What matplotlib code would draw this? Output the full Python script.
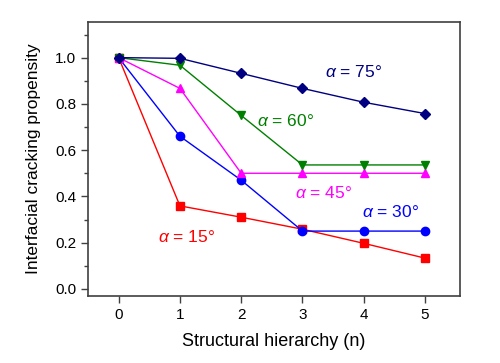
import matplotlib
matplotlib.use('Agg')
import matplotlib.pyplot as plt
from matplotlib.ticker import MultipleLocator

plt.rcParams['font.family'] = 'Liberation Sans'
plt.rcParams['mathtext.fontset'] = 'custom'
plt.rcParams['mathtext.rm'] = 'Liberation Sans'
plt.rcParams['mathtext.it'] = 'Liberation Sans:italic'

# data
n = [0, 1, 2, 3, 4, 5]
a75 = [1.0, 0.997, 0.932, 0.867, 0.807, 0.758]
a60 = [1.0, 0.967, 0.75, 0.536, 0.536, 0.536]
a45 = [1.0, 0.867, 0.5, 0.5, 0.5, 0.5]
a30 = [1.0, 0.66, 0.47, 0.25, 0.25, 0.25]
a15 = [1.0, 0.359, 0.31, 0.258, 0.197, 0.133]

series = [
    (a15, 'red', 's', r'$\mathit{\alpha}$ = 15°', 1.1, 0.225),
    (a30, 'blue', 'o', r'$\mathit{\alpha}$ = 30°', 4.43, 0.333),
    (a45, 'magenta', '^', r'$\mathit{\alpha}$ = 45°', 3.34, 0.415),
    (a60, 'green', 'v', r'$\mathit{\alpha}$ = 60°', 2.72, 0.727),
    (a75, 'navy', 'D', r'$\mathit{\alpha}$ = 75°', 3.83, 0.94),
]

fig = plt.figure(figsize=(5, 3.63), dpi=100)
ax = fig.add_axes([0.176, 0.185, 0.744, 0.755])

for ys, col, mk, lab, tx, ty in series:
    ms = 5 if mk == 'D' else 6
    ax.plot(n, ys, '-', color=col, marker=mk, markersize=ms, linewidth=1.0)
    ax.text(tx, ty, lab, color=col, fontsize=12.5, ha='center', va='center')

ax.set_xlim(-0.5, 5.57)
ax.set_ylim(-0.03, 1.155)
ax.set_xticks(n)
ax.yaxis.set_major_locator(MultipleLocator(0.2))
ax.yaxis.set_minor_locator(MultipleLocator(0.1))
ax.tick_params(axis='both', direction='out', labelsize=11, length=5, width=1, color='#404040')
ax.tick_params(which='minor', length=3, width=1, color='#404040')
for sp in ax.spines.values():
    sp.set_color('#404040')
    sp.set_linewidth(1.2)

ax.set_xlabel('Structural hierarchy (n)', fontsize=13, labelpad=8)
ax.set_ylabel('Interfacial cracking propensity', fontsize=12.5, labelpad=10)

fig.savefig('out.png', dpi=100)
